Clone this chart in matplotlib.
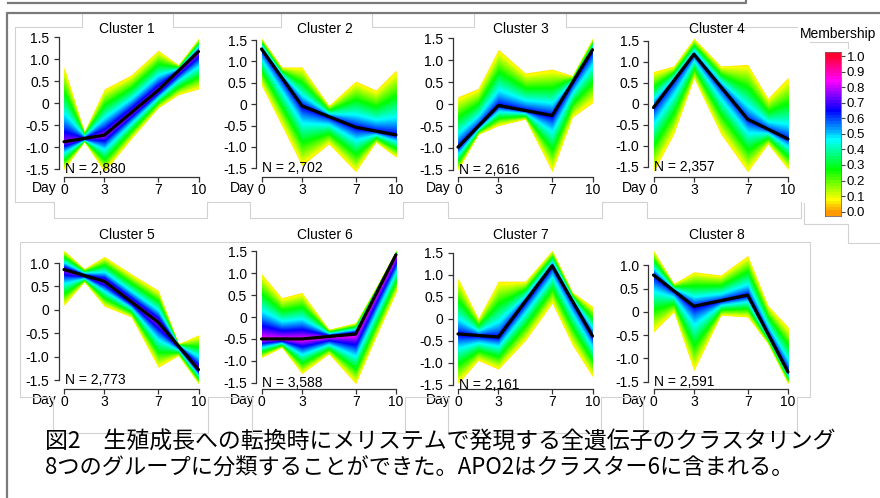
import numpy as np
import matplotlib
matplotlib.use("Agg")
import matplotlib.pyplot as plt
from matplotlib.colors import hsv_to_rgb
from matplotlib.lines import Line2D

plt.rcParams['font.family'] = ['Liberation Sans', 'Noto Sans CJK JP', 'DejaVu Sans']
plt.rcParams['axes.unicode_minus'] = False

# time points and the x positions where the envelopes were read
days = [0, 3, 7, 10]
env_x = [0, 1.5, 3, 5, 7, 8.5, 10]

titles = ['Cluster 1', 'Cluster 2', 'Cluster 3', 'Cluster 4',
          'Cluster 5', 'Cluster 6', 'Cluster 7', 'Cluster 8']
sizes = ['2,880', '2,702', '2,616', '2,357', '2,773', '3,588', '2,161', '2,591']

# cluster centres (black line)
c1_center = [-0.87, -0.72, 0.30, 1.18]
c2_center = [1.29, -0.04, -0.54, -0.72]
c3_center = [-0.98, -0.03, -0.26, 1.24]
c4_center = [-0.09, 1.18, -0.37, -0.84]
c5_center = [0.86, 0.61, -0.26, -1.27]
c6_center = [-0.50, -0.50, -0.39, 1.42]
c7_center = [-0.35, -0.42, 1.20, -0.40]
c8_center = [0.79, 0.12, 0.36, -1.29]

# outer envelope of member genes, upper and lower, at env_x
c1_upper = [0.84, -0.64, 0.33, 0.65, 1.21, 0.88, 1.48]
c1_lower = [-1.50, -0.87, -1.55, -0.80, -0.10, 0.20, 0.33]
c2_upper = [1.54, 0.87, 0.87, -0.03, 0.54, 0.33, 0.80]
c2_lower = [0.44, -0.50, -1.44, -0.93, -1.58, -0.89, -1.24]
c3_upper = [0.17, 0.36, 1.25, 0.71, 0.80, 0.65, 1.50]
c3_lower = [-1.50, -0.69, -0.49, -0.34, -1.54, -0.30, 0.03]
c4_upper = [0.77, 0.90, 1.56, 0.90, 0.94, 0.13, 0.63]
c4_lower = [-1.62, -0.72, 0.61, -0.72, -1.62, -0.96, -1.56]
c5_upper = [1.27, 0.88, 1.14, 0.77, 0.42, -0.72, -0.53]
c5_lower = [0.10, 0.60, 0.08, -0.15, -1.22, -0.97, -1.57]
c6_upper = [0.99, 0.44, 0.56, -0.28, -0.13, 0.67, 1.52]
c6_lower = [-0.92, -0.69, -1.29, -0.84, -1.52, -0.46, 0.56]
c7_upper = [0.92, 0.00, 0.85, 0.85, 1.55, 0.60, 0.28]
c7_lower = [-1.48, -0.95, -1.15, -0.50, 0.35, -0.60, -1.32]
c8_upper = [1.32, 0.61, 0.86, 0.79, 1.21, 0.14, -0.32]
c8_lower = [-0.43, 0.00, -1.26, -0.07, -0.11, -0.68, -1.54]

centers = [c1_center, c2_center, c3_center, c4_center,
           c5_center, c6_center, c7_center, c8_center]
uppers = [c1_upper, c2_upper, c3_upper, c4_upper,
          c5_upper, c6_upper, c7_upper, c8_upper]
lowers = [c1_lower, c2_lower, c3_lower, c4_lower,
          c5_lower, c6_lower, c7_lower, c8_lower]
# highest membership reached in each cluster
max_membership = [0.80, 0.68, 0.68, 0.65, 0.80, 0.88, 0.68, 0.68]


def member_color(m):
    return hsv_to_rgb(((0.1 + 0.87 * m) % 1.0, 1.0, 1.0))


W, H = 880, 498
fig = plt.figure(figsize=(W / 100, H / 100), dpi=100)


def fx(x):
    return x / W


def fy(y):
    return 1 - y / H


day0_px = [64, 261.5, 458, 653.5]
row_top = [33, 245]
row_bottom = [177, 389]
title_y = [29, 235]
day_px = 13.45

# light gray page outlines
light = '#d2d2d2'
outlines = [
    [(15, 201.7), (15, 27), (82, 27), (82, 13)],
    [(173, 13), (173, 27), (281, 27), (281, 13)],
    [(372, 13), (372, 27), (474, 27), (474, 13)],
    [(566, 13), (566, 27), (810, 27), (810, 42), (848, 42), (848, 48)],
    [(15, 201.7), (54, 201.7), (54, 218), (207, 218), (207, 201.7), (250, 201.7),
     (250, 218), (403, 218), (403, 201.7), (448, 201.7), (448, 218), (602, 218),
     (602, 201.7), (647, 201.7), (647, 218), (801, 218), (801, 201.7)],
    [(804, 203), (804, 224), (848, 224), (848, 243), (880, 243)],
    [(20, 397), (20, 242), (810, 242), (810, 397), (797, 397), (797, 433),
     (643, 433), (643, 397), (601, 397), (601, 433), (448, 433), (448, 397),
     (405, 397), (405, 433), (252, 433), (252, 397), (208, 397), (208, 433),
     (53, 433), (53, 397), (20, 397)],
]
for pts in outlines:
    xs = [fx(p[0]) for p in pts]
    ys = [fy(p[1]) for p in pts]
    fig.add_artist(Line2D(xs, ys, color=light, lw=0.8))

# dark frame
dark = '#7a7a7a'
fig.add_artist(Line2D([fx(8), fx(746), fx(746)], [fy(3), fy(3), fy(0)], color=dark, lw=1.6))
fig.add_artist(Line2D([fx(7), fx(7), fx(880)], [fy(498), fy(13), fy(13)], color=dark, lw=1.6))

for i in range(8):
    r, c = divmod(i, 4)
    left = day0_px[c] - 0.4 * day_px
    ax = fig.add_axes([fx(left), fy(row_bottom[r]), 10.8 * day_px / W,
                       (row_bottom[r] - row_top[r]) / H])
    ax.patch.set_alpha(0)

    cen = np.interp(env_x, days, centers[i])
    up = np.array(uppers[i])
    lo = np.array(lowers[i])
    mmax = max_membership[i]
    m0 = 0.06
    for m in np.linspace(m0, mmax, 70):
        w = ((mmax - m) / (mmax - m0)) ** 1.2
        ax.fill_between(env_x, cen + (up - cen) * w, cen - (cen - lo) * w,
                        color=member_color(m), lw=0)
    ax.plot(days, centers[i], color='black', lw=2.3, solid_capstyle='round')

    ymin, ymax = lo.min(), up.max()
    pad = 0.04 * (ymax - ymin)
    ax.set_ylim(ymin - pad, ymax + pad)
    ax.set_xlim(-0.4, 10.4)

    yt = [v for v in [-1.5, -1.0, -0.5, 0, 0.5, 1.0, 1.5] if ymin - pad <= v <= ymax + pad]
    ax.set_yticks(yt)
    ax.set_yticklabels(['0' if v == 0 else '%.1f' % v for v in yt])
    ax.set_xticks(days)
    ax.set_xticklabels([str(d) for d in days])
    for s in ['top', 'right']:
        ax.spines[s].set_visible(False)
    ax.spines['left'].set_bounds(yt[0], yt[-1])
    ax.spines['bottom'].set_bounds(0, 10)
    for s in ['left', 'bottom']:
        ax.spines[s].set_color('#333333')
        ax.spines[s].set_linewidth(0.9)
    ax.tick_params(axis='y', length=3.5, width=0.9, pad=3, labelsize=10, color='#333333')
    ax.tick_params(axis='x', length=3.5, width=0.9, pad=1, labelsize=10, color='#333333')

    ax.text(0.05, -1.5, 'N = ' + sizes[i], ha='left', va='center', fontsize=10)
    ax.annotate('Day', xy=(0, 0), xycoords=('data', 'axes fraction'),
                xytext=(-5, -7.6), textcoords='offset points',
                ha='right', va='center', fontsize=10)
    fig.text(fx(day0_px[c] + 63), fy(title_y[r]), titles[i],
             ha='center', va='center', fontsize=10)

# membership colour bar
cax = fig.add_axes([fx(825), fy(216), 16 / W, 164 / H])
edges = np.linspace(-0.028, 1.026, 56)
for a, b in zip(edges[:-1], edges[1:]):
    cax.axhspan(a, b, color=member_color(np.clip((a + b) / 2, 0, 1)), lw=0)
cax.set_ylim(-0.028, 1.026)
cax.set_xlim(0, 1)
cax.set_xticks([])
cb_ticks = [k / 10 for k in range(11)]
cax.yaxis.tick_right()
cax.set_yticks(cb_ticks)
cax.set_yticklabels(['%.1f' % v for v in cb_ticks])
cax.tick_params(axis='y', length=3, width=0.8, pad=1, labelsize=9.5, color='#444444')
for s in cax.spines.values():
    s.set_color('#8a5a5a')
    s.set_linewidth(0.6)
fig.text(fx(838), fy(34), 'Membership', ha='center', va='center', fontsize=10,
         bbox=dict(facecolor='white', edgecolor='none', pad=1))

# caption
cap_font = ['Noto Sans CJK JP', 'DejaVu Sans']
fig.text(fx(45), fy(442), '図2　生殖成長への転換時にメリステムで発現する全遺伝子のクラスタリング',
         ha='left', va='center', fontsize=16.5, family=cap_font)
fig.text(fx(45), fy(468), '8つのグループに分類することができた。APO2はクラスター6に含まれる。',
         ha='left', va='center', fontsize=16, family=cap_font)

fig.savefig('out.png', dpi=100)
